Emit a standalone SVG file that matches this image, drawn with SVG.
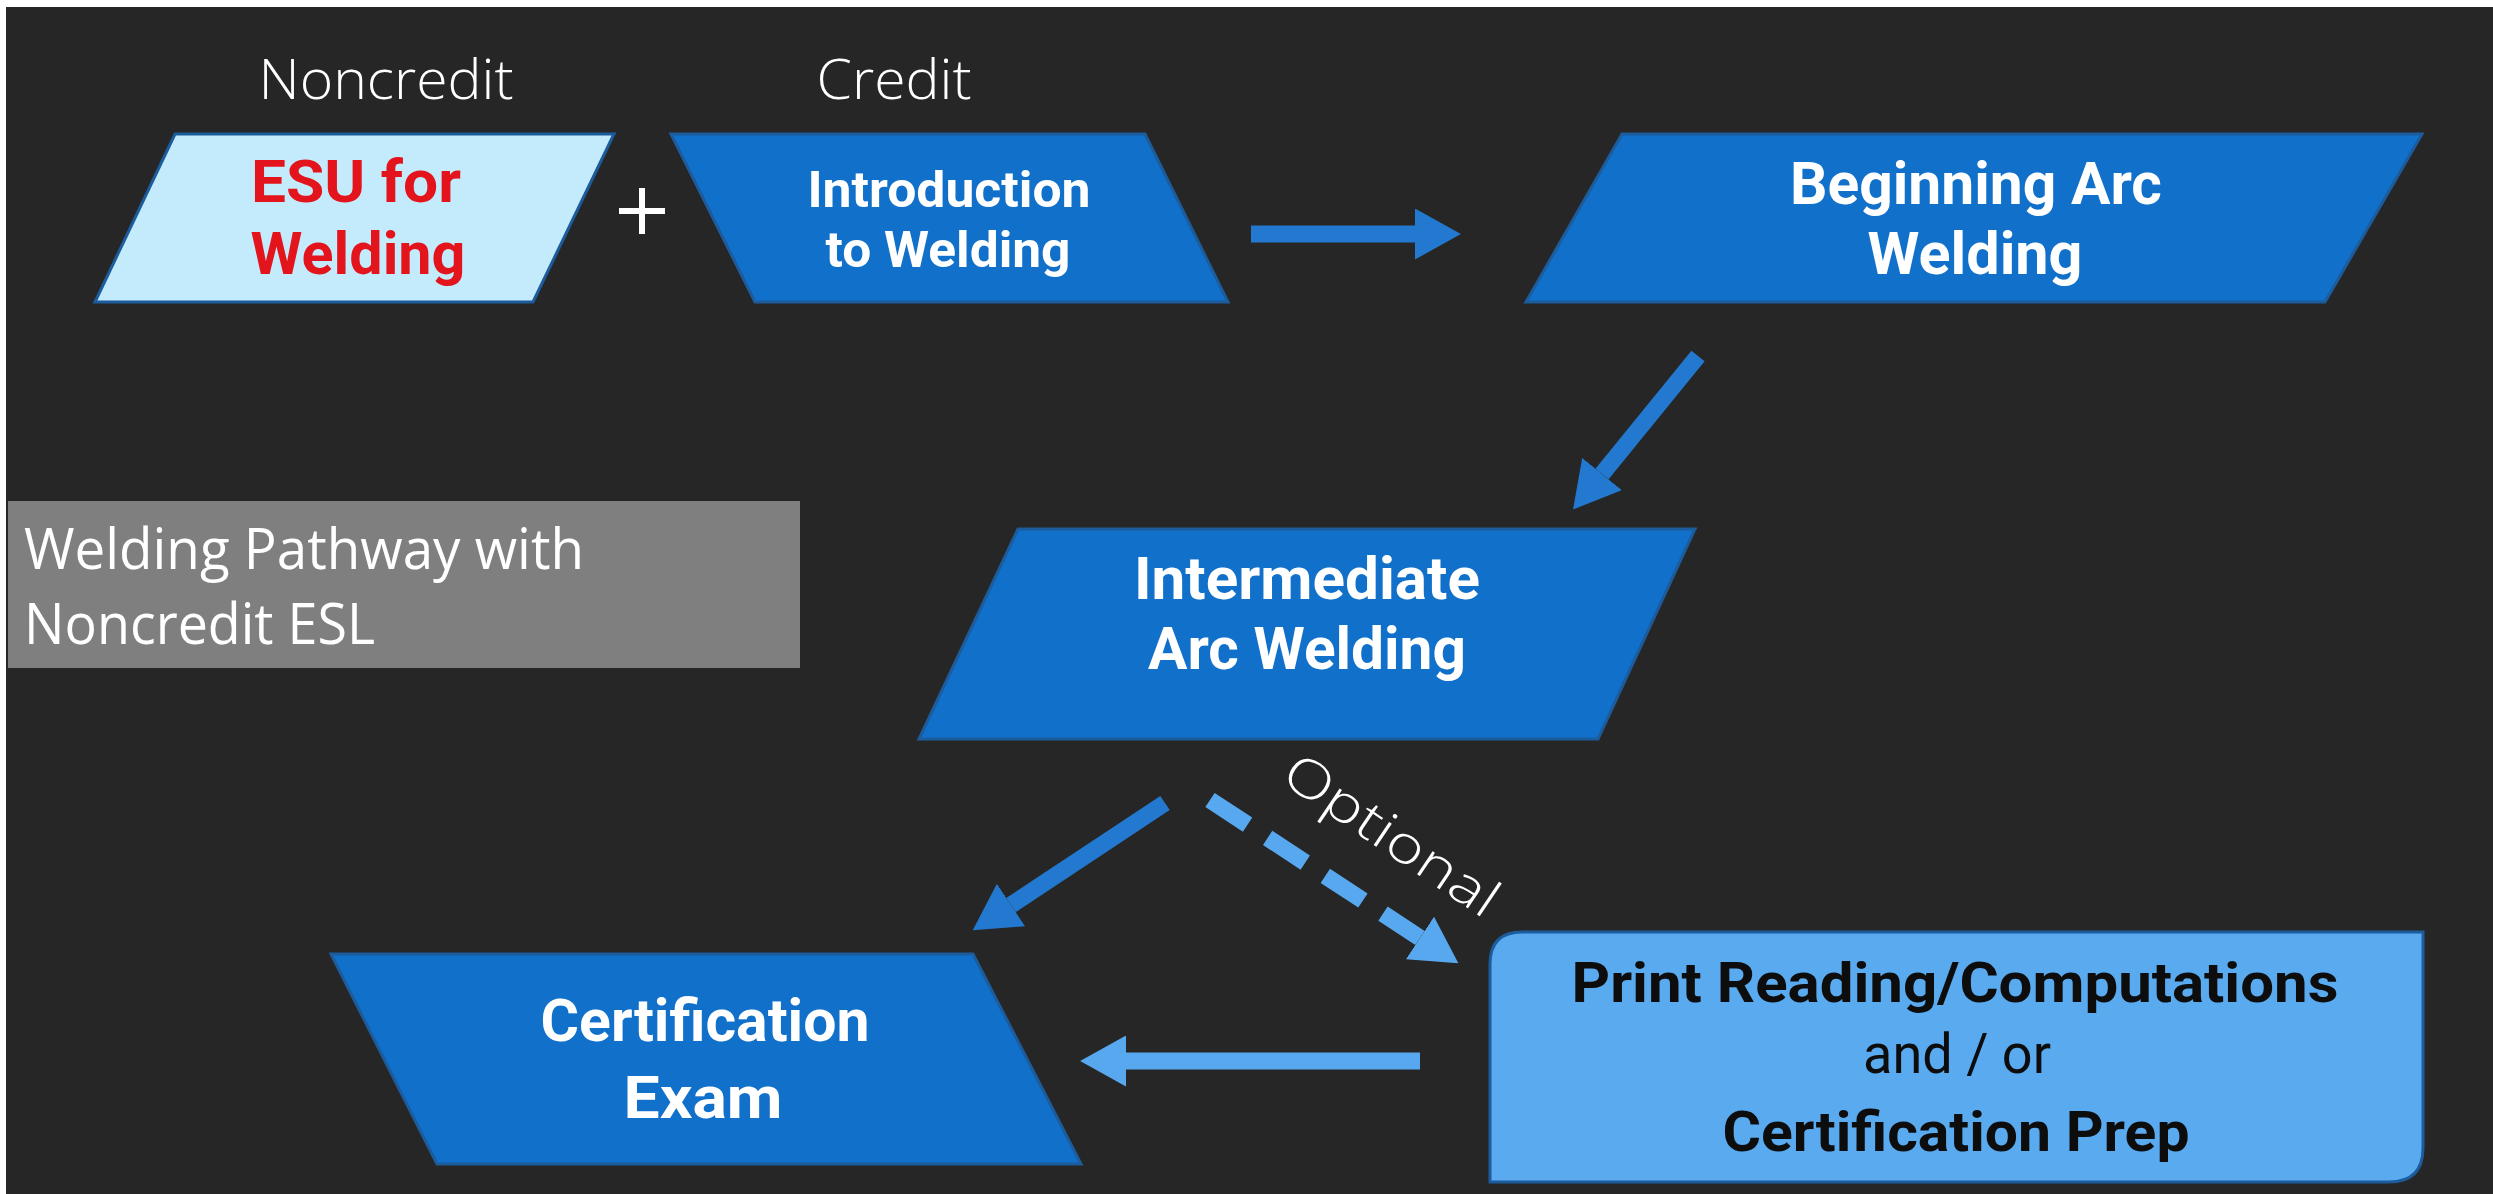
<svg xmlns="http://www.w3.org/2000/svg" width="2493" height="1194" viewBox="0 0 2493 1194">
<style>
.node{stroke:#1d5c9c;stroke-width:3}
.dark{fill:#1170c9}
.t{font-family:Roboto,"Liberation Sans",sans-serif;text-anchor:middle}
.b{font-weight:700}
.w{fill:#ffffff}
.hdr{font-family:"Open Sans","Liberation Sans",sans-serif;font-weight:300;fill:#ffffff;text-anchor:middle;font-size:55px}
.arr{stroke:#2379d0;stroke-width:17;fill:none}
.arrL{stroke:#58a8ef;stroke-width:17;fill:none}
</style>
<defs>
<marker id="hd" viewBox="0 0 10 10" refX="0" refY="5" markerWidth="2.7" markerHeight="3" preserveAspectRatio="none" orient="auto" markerUnits="strokeWidth">
<path d="M0,0 L10,5 L0,10 z" fill="#2379d0"/>
</marker>
<marker id="hl" viewBox="0 0 10 10" refX="0" refY="5" markerWidth="2.7" markerHeight="3" preserveAspectRatio="none" orient="auto" markerUnits="strokeWidth">
<path d="M0,0 L10,5 L0,10 z" fill="#58a8ef"/>
</marker>
</defs>
<rect x="0" y="0" width="2493" height="1194" fill="#ffffff"/>
<rect x="6" y="7" width="2487" height="1187" fill="#262626"/>

<text class="hdr" x="386" y="99" textLength="255" lengthAdjust="spacingAndGlyphs">Noncredit</text>
<text class="hdr" x="894" y="99" textLength="155" lengthAdjust="spacingAndGlyphs">Credit</text>

<g id="connectors">
<line class="arr" x1="1251" y1="234" x2="1415" y2="234" marker-end="url(#hd)"/>
<line class="arr" x1="1698" y1="356" x2="1602" y2="474" marker-end="url(#hd)"/>
<line class="arr" x1="1165" y1="803" x2="1011" y2="905" marker-end="url(#hd)"/>
<line class="arrL" x1="1210" y1="800" x2="1420" y2="938" stroke-dasharray="45 24" marker-end="url(#hl)"/>
<line class="arrL" x1="1420" y1="1061" x2="1126" y2="1061" marker-end="url(#hl)"/>
<text font-family="'Open Sans','Liberation Sans',sans-serif" text-anchor="middle" fill="#ffffff" font-weight="300" font-size="52" transform="translate(1391,836) rotate(34)" x="0" y="17" textLength="248" lengthAdjust="spacingAndGlyphs">Optional</text>
<path d="M642,188 V234 M619,211 H665" stroke="#ffffff" stroke-width="6"/>
</g>

<g id="esu">
<polygon class="node" points="175,134 614,134 533,302 95,302" fill="#c4ebfb"/>
<text class="t b" fill="#e3141b" font-size="60" x="356" y="202" textLength="210" lengthAdjust="spacingAndGlyphs">ESU for</text>
<text class="t b" fill="#e3141b" font-size="60" x="358" y="274" textLength="215" lengthAdjust="spacingAndGlyphs">Welding</text>
</g>

<g id="intro">
<polygon class="node dark" points="671,134 1145,134 1228,302 755,302"/>
<text class="t b w" font-size="50" x="949" y="207" textLength="283" lengthAdjust="spacingAndGlyphs">Introduction</text>
<text class="t b w" font-size="50" x="948" y="267" textLength="245" lengthAdjust="spacingAndGlyphs">to Welding</text>
</g>

<g id="beginning">
<polygon class="node dark" points="1622,134 2422,134 2325,302 1526,302"/>
<text class="t b w" font-size="59" x="1976" y="204" textLength="372" lengthAdjust="spacingAndGlyphs">Beginning Arc</text>
<text class="t b w" font-size="59" x="1975" y="274" textLength="215" lengthAdjust="spacingAndGlyphs">Welding</text>
</g>

<g id="label">
<rect x="8" y="501" width="792" height="167" fill="#7f7f7f"/>
<text font-family="'Open Sans','Liberation Sans',sans-serif" font-size="56" fill="#ffffff" x="24" y="569" textLength="560" lengthAdjust="spacingAndGlyphs">Welding Pathway with</text>
<text font-family="'Open Sans','Liberation Sans',sans-serif" font-size="56" fill="#ffffff" x="24" y="644" textLength="351" lengthAdjust="spacingAndGlyphs">Noncredit ESL</text>
</g>

<g id="intermediate">
<polygon class="node dark" points="1018,529 1695,529 1598,739 919,739"/>
<text class="t b w" font-size="59" x="1307" y="599" textLength="346" lengthAdjust="spacingAndGlyphs">Intermediate</text>
<text class="t b w" font-size="59" x="1307" y="669" textLength="318" lengthAdjust="spacingAndGlyphs">Arc Welding</text>
</g>

<g id="cert-exam">
<polygon class="node dark" points="331,954 973,954 1081,1164 437,1164"/>
<text class="t b w" font-size="60" x="705" y="1041" textLength="329" lengthAdjust="spacingAndGlyphs">Certification</text>
<text class="t b w" font-size="60" x="703" y="1118" textLength="159" lengthAdjust="spacingAndGlyphs">Exam</text>
</g>

<g id="print-prep">
<path class="node" d="M1522,932 H2423 V1148 Q2423,1182 2389,1182 H1490 V964 Q1490,932 1522,932 Z" fill="#5aaaf0"/>
<text class="t b" fill="#0d0d0d" font-size="56" x="1955" y="1002" textLength="767" lengthAdjust="spacingAndGlyphs">Print Reading/Computations</text>
<text class="t" fill="#0d0d0d" font-size="56" x="1957" y="1073" textLength="188" lengthAdjust="spacingAndGlyphs">and / or</text>
<text class="t b" fill="#0d0d0d" font-size="56" x="1956" y="1151" textLength="467" lengthAdjust="spacingAndGlyphs">Certification Prep</text>
</g>
</svg>
